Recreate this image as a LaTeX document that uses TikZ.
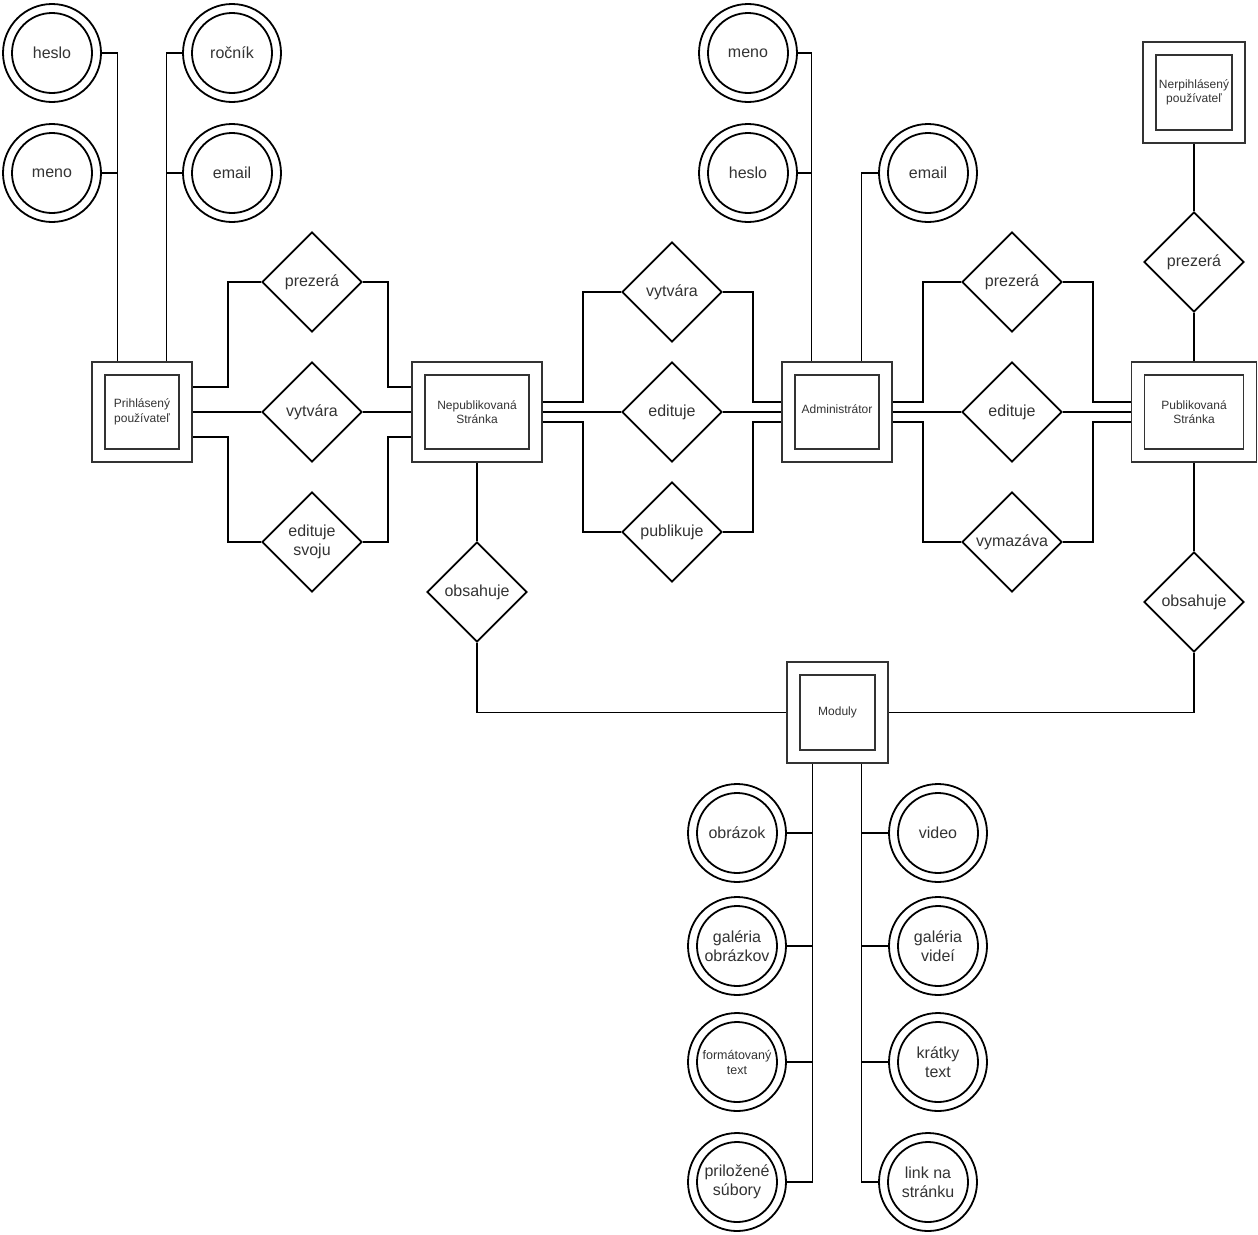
\documentclass[tikz,border=0pt]{standalone}
\usepackage{fontspec}
\setmainfont{Liberation Sans}
\usetikzlibrary{shapes.geometric}
\begin{document}
\begin{tikzpicture}[x=1pt,y=-1pt,
  conn/.style={draw=black, line width=1.2pt},
  attr/.style={circle, draw=black, line width=1.8pt, minimum size=98pt, inner sep=0pt,
    text=black!80, align=center, font=\fontsize{16}{19}\selectfont,
    path picture={\draw[line width=1.8pt] (path picture bounding box.center) circle (40pt);}},
  rel/.style={diamond, draw=black, line width=1.8pt, minimum width=100pt, minimum height=100pt,
    inner sep=0pt, aspect=1, text=black!80, align=center, font=\fontsize{16}{19}\selectfont},
  ent/.style={rectangle, draw=black!80, line width=1.8pt, minimum height=100pt, inner sep=0pt,
    text=black!80, align=center, font=\fontsize{12}{14.4}\selectfont,
    path picture={\draw[draw=black!80, line width=1.8pt]
      ([shift={(13pt,13pt)}]path picture bounding box.south west) rectangle
      ([shift={(-13pt,-13pt)}]path picture bounding box.north east);}}
]
\path[fill=white, use as bounding box] (0,0) rectangle (1258,1234);

% entities
\node[ent, minimum width=100pt] (prih) at (142,412) {Prihlásený\\používateľ};
\node[ent, minimum width=130pt] (nepub) at (477,412) {Nepublikovaná\\Stránka};
\node[ent, minimum width=110pt] (admin) at (837,412) {\raisebox{5pt}{Administrátor}};
\node[ent, minimum width=125pt] (pub) at (1194,412) {Publikovaná\\Stránka};
\node[ent, minimum width=102pt, minimum height=101pt] (nerp) at (1194,92.5) {Nerpihlásený\\používateľ};
\node[ent, minimum width=101pt, minimum height=101pt] (moduly) at (837.5,712.5) {Moduly};

% relationships
\node[rel] (d1) at (312,282) {prezerá};
\node[rel] (d2) at (312,412) {vytvára};
\node[rel] (d3) at (312,542) {edituje\\svoju};
\node[rel] (d4) at (477,592) {obsahuje};
\node[rel] (d5) at (672,292) {vytvára};
\node[rel] (d6) at (672,412) {edituje};
\node[rel] (d7) at (672,532) {publikuje};
\node[rel] (d8) at (1012,282) {prezerá};
\node[rel] (d9) at (1012,412) {edituje};
\node[rel] (d10) at (1012,542) {vymazáva};
\node[rel] (d11) at (1194,262) {prezerá};
\node[rel] (d12) at (1194,602) {obsahuje};

% attributes
\node[attr] (a1) at (52,53) {heslo};
\node[attr] (a2) at (52,173) {meno};
\node[attr] (a3) at (232,53) {ročník};
\node[attr] (a4) at (232,173) {email};
\node[attr] (a5) at (748,53) {meno};
\node[attr] (a6) at (748,173) {heslo};
\node[attr] (a7) at (928,173) {email};
\node[attr] (a8) at (737,833) {obrázok};
\node[attr] (a9) at (737,946) {galéria\\obrázkov};
\node[attr, font=\fontsize{12.5}{15}\selectfont] (a10) at (737,1062) {formátovaný\\text};
\node[attr] (a11) at (737,1182) {priložené\\súbory};
\node[attr] (a12) at (938,833) {video};
\node[attr] (a13) at (938,946) {galéria\\videí};
\node[attr] (a14) at (938,1062) {krátky\\text};
\node[attr] (a15) at (928,1182) {link na\\stránku};

% connectors: Prihlásený attributes
\draw[conn] (a1.east) -| ([xshift=26pt]prih.north west);
\draw[conn] (a2.east) -| ([xshift=26pt]prih.north west);
\draw[conn] (a3.west) -| ([xshift=75pt]prih.north west);
\draw[conn] (a4.west) -| ([xshift=75pt]prih.north west);

% Prihlásený -- Nepublikovaná
\draw[conn] ([yshift=25pt]prih.east) -- ++(35,0) |- (d1.west);
\draw[conn] (prih.east) -- (d2.west);
\draw[conn] ([yshift=-25pt]prih.east) -- ++(35,0) |- (d3.west);
\draw[conn] (d1.east) -- ++(25,0) |- ([yshift=25pt]nepub.west);
\draw[conn] (d2.east) -- (nepub.west);
\draw[conn] (d3.east) -- ++(25,0) |- ([yshift=-25pt]nepub.west);

% Nepublikovaná -- Administrátor
\draw[conn] ([yshift=10pt]nepub.east) -- ++(40,0) |- (d5.west);
\draw[conn] (nepub.east) -- (d6.west);
\draw[conn] ([yshift=-10pt]nepub.east) -- ++(40,0) |- (d7.west);
\draw[conn] (d5.east) -- ++(30,0) |- ([yshift=10pt]admin.west);
\draw[conn] (d6.east) -- (admin.west);
\draw[conn] (d7.east) -- ++(30,0) |- ([yshift=-10pt]admin.west);

% Administrátor attributes
\draw[conn] (a5.east) -| ([xshift=30pt]admin.north west);
\draw[conn] (a6.east) -| ([xshift=30pt]admin.north west);
\draw[conn] (a7.west) -| ([xshift=80pt]admin.north west);

% Administrátor -- Publikovaná
\draw[conn] ([yshift=10pt]admin.east) -- ++(30,0) |- (d8.west);
\draw[conn] (admin.east) -- (d9.west);
\draw[conn] ([yshift=-10pt]admin.east) -- ++(30,0) |- (d10.west);
\draw[conn] (d8.east) -- ++(30,0) |- ([yshift=10pt]pub.west);
\draw[conn] (d9.east) -- (pub.west);
\draw[conn] (d10.east) -- ++(30,0) |- ([yshift=-10pt]pub.west);

% Nerpihlásený / Publikovaná / Moduly
\draw[conn] (nerp.south) -- (d11.north);
\draw[conn] (d11.south) -- (pub.north);
\draw[conn] (pub.south) -- (d12.north);
\draw[conn] (nepub.south) -- (d4.north);
\draw[conn] (d4.south) |- (moduly.west);
\draw[conn] (d12.south) |- (moduly.east);

% Moduly attributes
\draw[conn] (a8.east) -| ([xshift=26pt]moduly.south west);
\draw[conn] (a9.east) -| ([xshift=26pt]moduly.south west);
\draw[conn] (a10.east) -| ([xshift=26pt]moduly.south west);
\draw[conn] (a11.east) -| ([xshift=26pt]moduly.south west);
\draw[conn] (a12.west) -| ([xshift=75pt]moduly.south west);
\draw[conn] (a13.west) -| ([xshift=75pt]moduly.south west);
\draw[conn] (a14.west) -| ([xshift=75pt]moduly.south west);
\draw[conn] (a15.west) -| ([xshift=75pt]moduly.south west);
\end{tikzpicture}
\end{document}
